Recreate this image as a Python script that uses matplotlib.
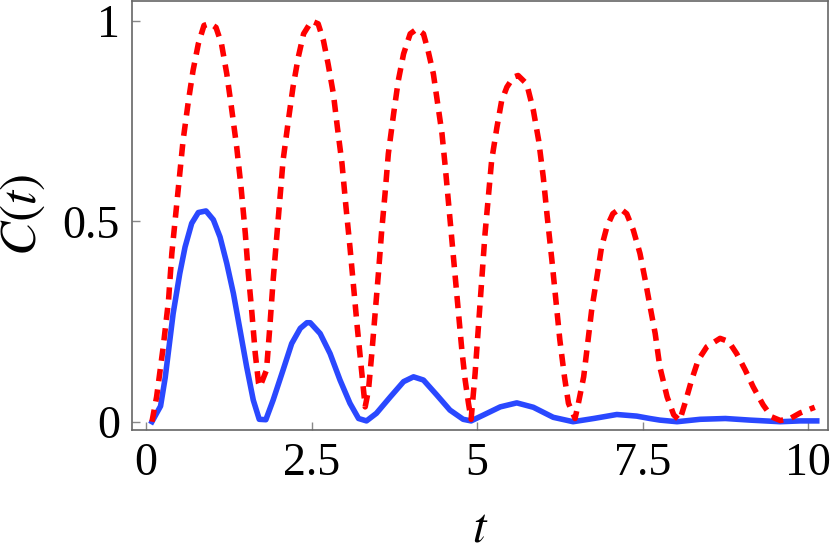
import matplotlib
matplotlib.use('Agg')
import matplotlib.pyplot as plt

plt.rcParams['font.family'] = ['Liberation Serif', 'DejaVu Serif']
plt.rcParams['mathtext.fontset'] = 'stix'

# solid blue curve
t_blue = [0.09, 0.22, 0.29, 0.41, 0.51, 0.59, 0.69, 0.79, 0.906, 1.017, 1.118,
          1.22, 1.32, 1.42, 1.52, 1.62, 1.71, 1.81, 1.92, 2.07, 2.2, 2.33, 2.43,
          2.48, 2.63, 2.78, 2.93, 3.08, 3.21, 3.33, 3.48, 3.69, 3.89, 4.04, 4.19,
          4.39, 4.59, 4.79, 4.91, 5.1, 5.35, 5.6, 5.85, 6.15, 6.45, 6.76, 7.11,
          7.41, 7.61, 7.76, 8.02, 8.37, 8.75, 9.12, 9.58, 9.88, 10.13]
c_blue = [0.0, 0.039, 0.11, 0.27, 0.37, 0.436, 0.495, 0.522, 0.526, 0.504, 0.461,
          0.395, 0.32, 0.229, 0.137, 0.054, 0.006, 0.005, 0.054, 0.129, 0.195, 0.233, 0.247,
          0.247, 0.22, 0.17, 0.104, 0.046, 0.008, 0.002, 0.021, 0.062, 0.1, 0.112, 0.104,
          0.067, 0.029, 0.006, 0.002, 0.017, 0.037, 0.047, 0.036, 0.011, 0.0, 0.008, 0.018,
          0.014, 0.008, 0.004, 0.0, 0.006, 0.008, 0.004, 0.0, 0.002, 0.002]

# dashed red curve
t_red = [0.09, 0.16, 0.26, 0.34, 0.39, 0.46, 0.51, 0.56, 0.64, 0.71, 0.79, 0.876,
         0.967, 1.057, 1.14, 1.22, 1.29, 1.37, 1.435, 1.5, 1.545, 1.6, 1.65, 1.70, 1.72,
         1.82, 1.87, 1.92, 1.97, 2.02, 2.07, 2.15, 2.22, 2.30, 2.38, 2.50,
         2.6, 2.68, 2.75, 2.83, 2.89, 2.96, 3.02, 3.08, 3.14, 3.19, 3.24, 3.29, 3.31,
         3.36, 3.41, 3.46, 3.51, 3.56, 3.61, 3.66, 3.74, 3.81, 3.89, 3.99, 4.09,
         4.19, 4.26, 4.34, 4.40, 4.47, 4.52, 4.57, 4.62, 4.67, 4.72, 4.77, 4.82, 4.87, 4.91,
         4.97, 5.02, 5.07, 5.12, 5.17, 5.22, 5.30, 5.37, 5.45, 5.55, 5.62,
         5.75, 5.85, 5.93, 6.0, 6.06, 6.13, 6.19, 6.25, 6.32, 6.38, 6.48,
         6.53, 6.61, 6.67, 6.73, 6.81, 6.88, 6.96, 7.05, 7.16,
         7.26, 7.36, 7.46, 7.54, 7.61, 7.69, 7.76, 7.87, 7.97, 8.06,
         8.14, 8.24, 8.34, 8.47, 8.67, 8.80, 8.92, 9.05, 9.17, 9.32, 9.45, 9.58,
         9.73, 9.88, 10.1]
c_red = [0.0, 0.062, 0.187, 0.303, 0.42, 0.536, 0.619, 0.702, 0.80, 0.876, 0.943, 0.989,
         0.994, 0.984, 0.943, 0.868, 0.785, 0.685, 0.586, 0.469, 0.37, 0.27, 0.17, 0.096, 0.087,
         0.129, 0.237, 0.353, 0.453, 0.552, 0.652, 0.752, 0.835, 0.91, 0.968, 1.0,
         0.993, 0.951, 0.893, 0.818, 0.735, 0.644, 0.536, 0.436, 0.328, 0.237, 0.154, 0.071, 0.037,
         0.079, 0.17, 0.27, 0.37, 0.478, 0.569, 0.669, 0.769, 0.851, 0.918, 0.968, 0.98,
         0.968, 0.926, 0.868, 0.80, 0.719, 0.635, 0.544, 0.453, 0.361, 0.27, 0.179, 0.104, 0.046, 0.006,
         0.12, 0.237, 0.353, 0.469, 0.561, 0.652, 0.735, 0.80, 0.835, 0.86, 0.864,
         0.843, 0.777, 0.702, 0.61, 0.511, 0.403, 0.303, 0.204, 0.112, 0.046, 0.008,
         0.046, 0.112, 0.195, 0.278, 0.361, 0.436, 0.486, 0.519, 0.532,
         0.519, 0.478, 0.42, 0.353, 0.29, 0.22, 0.137, 0.062, 0.017, 0.003,
         0.046, 0.104, 0.154, 0.187, 0.208, 0.2, 0.17, 0.129, 0.087, 0.042, 0.012, 0.003,
         0.008, 0.022, 0.036]

xticks = [0, 2.5, 5, 7.5, 10]
xticklabels = ['0', '2.5', '5', '7.5', '10']
yticks = [0, 0.5, 1]
yticklabels = ['0', '0.5', '1']

fig = plt.figure(figsize=(8.3, 5.57), dpi=100)
ax = fig.add_axes([0.1594, 0.228, 0.8382, 0.771])

ax.plot(t_blue, c_blue, color='#2a48ff', lw=4.0, solid_joinstyle='round', zorder=2)
ax.plot(t_red, c_red, color='#ff0000', lw=4.0, linestyle=(0, (2.2, 1.5)),
        dash_capstyle='butt', zorder=3)

ax.set_xlim(-0.207, 10.30)
ax.set_ylim(-0.0207, 1.051)
ax.set_xticks(xticks)
ax.set_xticklabels(xticklabels)
ax.set_yticks(yticks)
ax.set_yticklabels(yticklabels)
ax.tick_params(direction='in', length=5.5, width=1, color='#888888',
               labelsize=33, pad=9)
for s in ax.spines.values():
    s.set_color('#666666')
    s.set_linewidth(1.2)

ax.set_xlabel(r'$t$', fontsize=35)
ax.set_ylabel(r'$C(t)$', fontsize=37)
ax.xaxis.set_label_coords(0.5, -0.18)
ax.yaxis.set_label_coords(-0.122, 0.5)

fig.savefig('out.png', dpi=100)
